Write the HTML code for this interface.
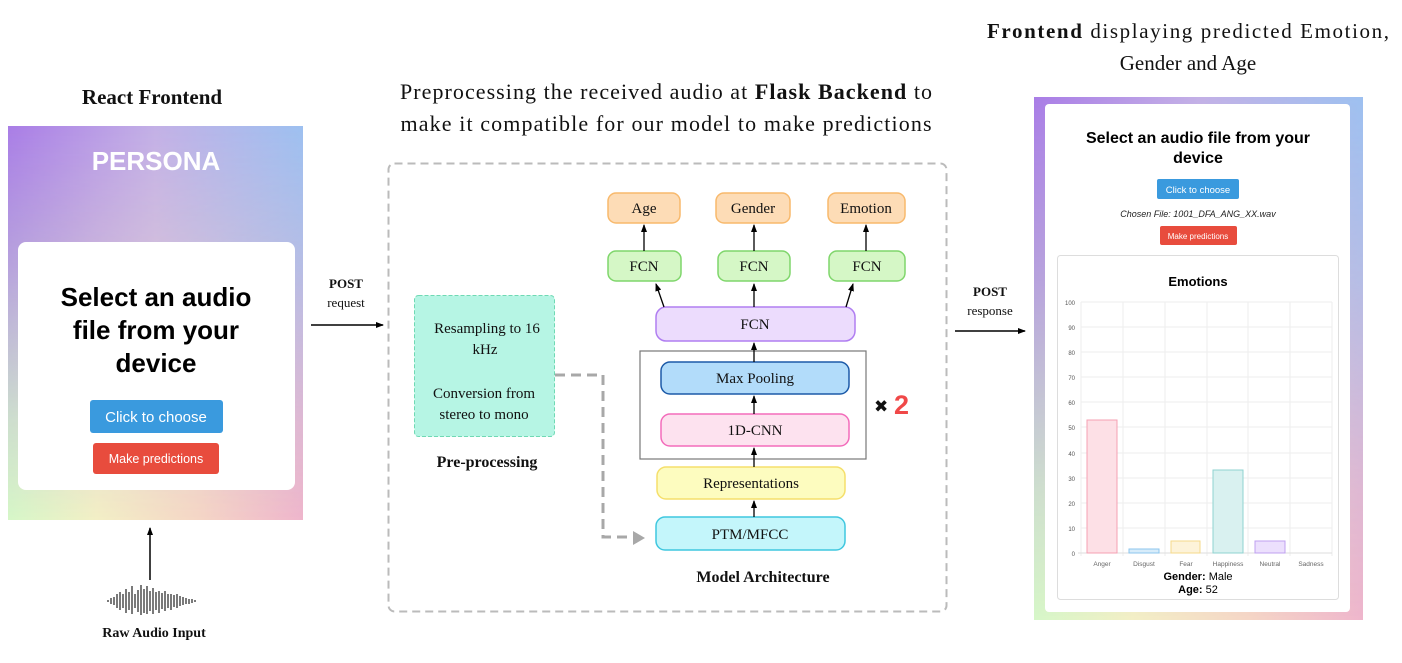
<!DOCTYPE html>
<html><head><meta charset="utf-8">
<style>
html,body{margin:0;padding:0;background:#fff;}
body{width:1402px;height:663px;position:relative;overflow:hidden;font-family:"Liberation Sans",sans-serif;}
.pan{position:absolute;overflow:hidden;}
.pan .b{position:absolute;inset:0;background:linear-gradient(90deg,#d6f7c8 0%,#f3efc6 30%,#f5d6c6 65%,#efb6cc 100%);}
.pan .t{position:absolute;inset:0;background:linear-gradient(90deg,#a97de6 0%,#c3b0e6 50%,#9dc0f0 100%);-webkit-mask-image:linear-gradient(180deg,#000 0%,rgba(0,0,0,.7) 35%,rgba(0,0,0,.2) 75%,transparent 100%);mask-image:linear-gradient(180deg,#000 0%,rgba(0,0,0,.7) 35%,rgba(0,0,0,.2) 75%,transparent 100%);}
svg{position:absolute;left:0;top:0;}
</style></head><body>
<div class="pan" style="left:8px;top:126px;width:295px;height:394px"><div class="b"></div><div class="t"></div></div>
<div class="pan" style="left:1034px;top:97px;width:329px;height:523px"><div class="b"></div><div class="t"></div></div>
<svg width="1402" height="663" viewBox="0 0 1402 663" xmlns="http://www.w3.org/2000/svg">
<defs>
<marker id="ah" markerWidth="8" markerHeight="8" refX="7" refY="4" orient="auto" markerUnits="userSpaceOnUse"><path d="M0,1 L8,4 L0,7 z" fill="#000"/></marker>
</defs>
<g font-family="Liberation Serif, serif" fill="#111">
<text x="152" y="104" font-size="21" font-weight="bold" text-anchor="middle">React Frontend</text>
<text x="156" y="170" font-family="Liberation Sans, sans-serif" font-size="26" font-weight="bold" fill="#fff" text-anchor="middle">PERSONA</text>
<rect x="18" y="242" width="277" height="248" rx="8" fill="#fff"/>
<g font-family="Liberation Sans, sans-serif" font-size="26" font-weight="bold" text-anchor="middle" fill="#000">
<text x="156" y="306">Select an audio</text>
<text x="156" y="339">file from your</text>
<text x="156" y="372">device</text></g>
<rect x="90" y="400" width="133" height="33" rx="3" fill="#3a9ade"/>
<text x="156" y="422" font-family="Liberation Sans, sans-serif" font-size="15" fill="#fff" text-anchor="middle">Click to choose</text>
<rect x="93" y="443" width="126" height="31" rx="3" fill="#e84c3d"/>
<text x="156" y="463" font-family="Liberation Sans, sans-serif" font-size="12.5" fill="#fff" text-anchor="middle">Make predictions</text>
<line x1="150" y1="580" x2="150" y2="528" stroke="#000" stroke-width="1.5" marker-end="url(#ah)"/>
<g stroke="#333" stroke-width="1.3">
<path d="M108,602v-2M111,604v-6M114,605v-8M117,608v-14M120,610v-18M123,608v-14M126,613v-24M129,610v-18M132,614v-28M135,608v-14M138,612v-22M141,615v-30M144,613v-24M147,614v-28M150,611v-20M153,614v-26M156,610v-18M159,613v-22M162,609v-16M165,611v-20M168,608v-14M171,610v-16M174,607v-12M177,608v-14M180,606v-10M183,605v-8M186,604v-6M189,604v-5M192,603v-4M195,602v-2"/>
</g>
<text x="154" y="637" font-size="14" font-weight="bold" text-anchor="middle">Raw Audio Input</text>
<text x="346" y="288" font-size="13" font-weight="bold" text-anchor="middle">POST</text>
<text x="346" y="307" font-size="13" text-anchor="middle">request</text>
<line x1="311" y1="325" x2="383" y2="325" stroke="#000" stroke-width="1.5" marker-end="url(#ah)"/>
<text x="666" y="99" font-size="22" text-anchor="middle" textLength="532" lengthAdjust="spacing">Preprocessing the received audio at <tspan font-weight="bold">Flask Backend</tspan> to</text>
<text x="666" y="131" font-size="22" text-anchor="middle" textLength="531" lengthAdjust="spacing">make it compatible for our model to make predictions</text>
<rect x="388.5" y="163.5" width="558" height="448" rx="6" fill="none" stroke="#bbb" stroke-width="2" stroke-dasharray="8,5"/>
<rect x="414.5" y="295.5" width="140" height="141" rx="4" fill="#b6f5e4" stroke="#6fd9b4" stroke-width="1" stroke-dasharray="4,2"/>
<g font-size="15" text-anchor="middle">
<text x="487" y="333">Resampling to 16</text>
<text x="485" y="354">kHz</text>
<text x="484" y="398">Conversion from</text>
<text x="484" y="419">stereo to mono</text></g>
<text x="487" y="467" font-size="16" font-weight="bold" text-anchor="middle">Pre-processing</text>
<path d="M555,375 H603 V537 H630" fill="none" stroke="#a8a8a8" stroke-width="3" stroke-dasharray="10,6"/>
<path d="M633,531 L645,538 L633,545 z" fill="#a8a8a8"/>
<g stroke-width="1.5">
<rect x="608" y="193" width="72" height="30" rx="8" fill="#fddcb6" stroke="#f8b96c"/>
<rect x="716" y="193" width="74" height="30" rx="8" fill="#fddcb6" stroke="#f8b96c"/>
<rect x="828" y="193" width="77" height="30" rx="8" fill="#fddcb6" stroke="#f8b96c"/>
<rect x="608" y="251" width="73" height="30" rx="8" fill="#d5f7c6" stroke="#7fd66b"/>
<rect x="718" y="251" width="72" height="30" rx="8" fill="#d5f7c6" stroke="#7fd66b"/>
<rect x="829" y="251" width="76" height="30" rx="8" fill="#d5f7c6" stroke="#7fd66b"/>
<rect x="656" y="307" width="199" height="34" rx="10" fill="#ecdcfd" stroke="#b07ef1"/>
<rect x="640" y="351" width="226" height="108" fill="none" stroke="#777" stroke-width="1.2"/>
<rect x="661" y="362" width="188" height="32" rx="9" fill="#b2dcfa" stroke="#1c5aa8"/>
<rect x="661" y="414" width="188" height="32" rx="9" fill="#fde2ef" stroke="#f36cbb"/>
<rect x="657" y="467" width="188" height="32" rx="9" fill="#fdfcbf" stroke="#f5df6b"/>
<rect x="656" y="517" width="189" height="33" rx="9" fill="#c4f6fb" stroke="#3fc7df"/>
</g>
<g font-size="15" text-anchor="middle">
<text x="644" y="213">Age</text><text x="753" y="213">Gender</text><text x="866" y="213">Emotion</text>
<text x="644" y="271">FCN</text><text x="754" y="271">FCN</text><text x="867" y="271">FCN</text>
<text x="755" y="329">FCN</text>
<text x="755" y="383">Max Pooling</text>
<text x="755" y="435">1D-CNN</text>
<text x="751" y="488">Representations</text>
<text x="750" y="539">PTM/MFCC</text></g>
<g stroke="#000" stroke-width="1.3" marker-end="url(#ah)">
<line x1="644" y1="251" x2="644" y2="225"/><line x1="754" y1="251" x2="754" y2="225"/><line x1="866" y1="251" x2="866" y2="225"/>
<line x1="664" y1="307" x2="656" y2="284"/><line x1="754" y1="307" x2="754" y2="284"/><line x1="846" y1="307" x2="853" y2="284"/>
<line x1="754" y1="362" x2="754" y2="343"/><line x1="754" y1="414" x2="754" y2="396"/><line x1="754" y1="467" x2="754" y2="448"/><line x1="754" y1="517" x2="754" y2="501"/>
</g>
<text x="874" y="412" font-family="DejaVu Sans, sans-serif" font-size="17" fill="#111">✖</text>
<text x="894" y="414" font-family="Liberation Sans, sans-serif" font-size="27" font-weight="bold" fill="#f04848">2</text>
<text x="763" y="582" font-size="16" font-weight="bold" text-anchor="middle">Model Architecture</text>
<text x="990" y="296" font-size="13" font-weight="bold" text-anchor="middle">POST</text>
<text x="990" y="315" font-size="13" text-anchor="middle">response</text>
<line x1="955" y1="331" x2="1025" y2="331" stroke="#000" stroke-width="1.5" marker-end="url(#ah)"/>
<text x="1188" y="38" font-size="21" text-anchor="middle" textLength="402" lengthAdjust="spacing"><tspan font-weight="bold">Frontend</tspan> displaying predicted Emotion,</text>
<text x="1188" y="70" font-size="21" text-anchor="middle">Gender and Age</text>
<rect x="1045" y="104" width="305" height="508" rx="4" fill="#fff"/>
<g font-family="Liberation Sans, sans-serif" text-anchor="middle" fill="#000">
<text x="1198" y="143" font-size="16" font-weight="bold">Select an audio file from your</text>
<text x="1198" y="163" font-size="16" font-weight="bold">device</text>
<rect x="1157" y="179" width="82" height="20" rx="2" fill="#3a9ade"/>
<text x="1198" y="193" font-size="9.5" fill="#fff">Click to choose</text>
<text x="1198" y="217" font-size="9" font-style="italic" fill="#222">Chosen File: 1001_DFA_ANG_XX.wav</text>
<rect x="1160" y="226" width="77" height="19" rx="2" fill="#e84c3d"/>
<text x="1198" y="239" font-size="8" fill="#fff">Make predictions</text>
<rect x="1057.5" y="255.5" width="281" height="344" rx="3" fill="#fff" stroke="#ddd"/>
<text x="1198" y="286" font-size="13" font-weight="bold">Emotions</text>
<g stroke="#eee" stroke-width="1">
<path d="M1081,302H1332M1081,327H1332M1081,352H1332M1081,377H1332M1081,402H1332M1081,427H1332M1081,453H1332M1081,478H1332M1081,503H1332M1081,528H1332"/>
<path d="M1081,302V556M1123,302V556M1165,302V556M1207,302V556M1248,302V556M1290,302V556M1332,302V556"/>
</g>
<line x1="1078" y1="553" x2="1332" y2="553" stroke="#ddd"/>
<g font-size="6" fill="#555" text-anchor="end">
<text x="1075" y="305">100</text><text x="1075" y="330">90</text><text x="1075" y="355">80</text><text x="1075" y="380">70</text><text x="1075" y="405">60</text><text x="1075" y="430">50</text><text x="1075" y="456">40</text><text x="1075" y="481">30</text><text x="1075" y="506">20</text><text x="1075" y="531">10</text><text x="1075" y="556">0</text></g>
<rect x="1087" y="420" width="30" height="133" fill="#fde0e6" stroke="#f5a0b3"/>
<rect x="1129" y="549" width="30" height="4" fill="#d7ecfa" stroke="#8cc6ee"/>
<rect x="1171" y="541" width="29" height="12" fill="#fdf3d9" stroke="#f5d98a"/>
<rect x="1213" y="470" width="30" height="83" fill="#d9f1f0" stroke="#8fd3d0"/>
<rect x="1255" y="541" width="30" height="12" fill="#ece0fd" stroke="#bfa0f0"/>
<g font-size="6.5" fill="#666">
<text x="1102" y="566">Anger</text><text x="1144" y="566">Disgust</text><text x="1186" y="566">Fear</text><text x="1228" y="566">Happiness</text><text x="1270" y="566">Neutral</text><text x="1311" y="566">Sadness</text></g>
<text x="1198" y="580" font-size="11"><tspan font-weight="bold">Gender:</tspan> Male</text>
<text x="1198" y="593" font-size="11"><tspan font-weight="bold">Age:</tspan> 52</text>
</g>
</g>
</svg>
</body></html>
